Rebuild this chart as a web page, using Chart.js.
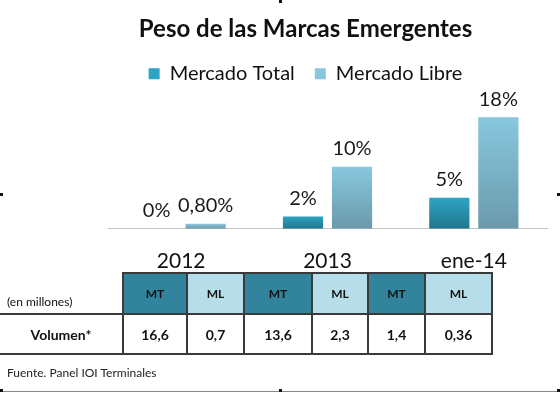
<!DOCTYPE html>
<html>
<head>
<meta charset="utf-8">
<script src="https://cdn.jsdelivr.net/npm/chart.js@4"></script>
<style>
    body { margin: 0; background: #fff; font-family: Lato, sans-serif; }
    #wrap { position: relative; width: 560px; height: 393px; overflow: hidden; }
    #chartBox { position: absolute; left: 0; top: 0; width: 560px; height: 301px; }
    table.vol { position: absolute; left: 0; top: 272px; border-collapse: collapse; }
    table.vol td { padding: 0; text-align: center; font-weight: bold; color: #111; }
    table.vol tr.head td { height: 39px; font-size: 12px; border: 2px solid #3a3a3a; }
    table.vol tr.data td { height: 38px; font-size: 14px; border: 2px solid #3a3a3a; }
    table.vol td.side { border-left: none !important; border-top: none !important; }
    table.vol tr.head td.side { text-align: left; font-weight: normal; font-size: 12px; padding-left: 7px; }
    table.vol td.side span.low { position: relative; top: 8px; }
    td.mt { background: #31849b; }
    td.ml { background: #b7dee8; }
    .note { position: absolute; left: 7px; top: 365px; font-size: 12px; color: #222; }
    .mark { position: absolute; width: 3px; height: 3px; background: #111; }
    .bottomLine { position: absolute; left: 0; top: 391px; width: 560px; height: 1px; background: #888; }
</style>
</head>
<body>
<div id="wrap">
    <div id="chartBox"><canvas id="pesoChart"></canvas></div>
    <table class="vol" id="volTable"></table>
    <div class="note">Fuente. Panel IOI Terminales</div>
    <div class="bottomLine"></div>
    <div class="mark" style="left:0;top:193px"></div>
    <div class="mark" style="left:557px;top:193px"></div>
    <div class="mark" style="left:279px;top:0"></div>
    <div class="mark" style="left:0;top:389px"></div>
    <div class="mark" style="left:279px;top:389px"></div>
    <div class="mark" style="left:557px;top:389px"></div>
</div>
<script>
// Datos del gráfico
const periodos = ['2012', '2013', 'ene-14'];
const mercadoTotal = [0, 2, 5];
const mercadoLibre = [0.8, 10, 18];
const etiquetasTotal = ['0%', '2%', '5%'];
const etiquetasLibre = ['0,80%', '10%', '18%'];

// Datos de la tabla
const columnas = ['MT', 'ML', 'MT', 'ML', 'MT', 'ML'];
const volumen = ['16,6', '0,7', '13,6', '2,3', '1,4', '0,36'];
const anchos = [124, 64, 57, 68, 56, 57, 67];

// Tabla de volumen
const table = document.getElementById('volTable');
let head = '<tr class="head"><td class="side" style="width:' + (anchos[0] - 9) + 'px"><span class="low">(en millones)</span></td>';
columnas.forEach((c, i) => {
    head += '<td class="' + c.toLowerCase() + '" style="width:' + (anchos[i + 1] - 2) + 'px">' + c + '</td>';
});
head += '</tr>';
let row = '<tr class="data"><td class="side">Volumen*</td>';
volumen.forEach(v => { row += '<td>' + v + '</td>'; });
row += '</tr>';
table.innerHTML = head + row;

// Degradado por barra
function barGradient(top, bottom) {
    return function(ctx) {
        const chart = ctx.chart;
        if (ctx.type !== 'data' || !chart.chartArea) return top;
        const y = chart.scales.y;
        const y0 = y.getPixelForValue(0);
        const y1 = y.getPixelForValue(ctx.parsed.y);
        if (Math.abs(y0 - y1) < 1) return top;
        const g = chart.ctx.createLinearGradient(0, y1, 0, y0);
        g.addColorStop(0, top);
        g.addColorStop(1, bottom);
        return g;
    };
}

// Etiquetas sobre las barras
const valueLabels = {
    id: 'valueLabels',
    afterDatasetsDraw(chart) {
        const ctx = chart.ctx;
        ctx.save();
        ctx.font = '20px Lato';
        ctx.fillStyle = '#1a1a1a';
        ctx.textAlign = 'center';
        ctx.textBaseline = 'middle';
        chart.data.datasets.forEach((ds, i) => {
            chart.getDatasetMeta(i).data.forEach((bar, j) => {
                ctx.fillText(ds.etiquetas[j], bar.x, bar.y - 18);
            });
        });
        ctx.restore();
    }
};

const ctx = document.getElementById('pesoChart').getContext('2d');
new Chart(ctx, {
    type: 'bar',
    data: {
        labels: periodos,
        datasets: [
            {
                label: 'Mercado Total',
                data: mercadoTotal,
                etiquetas: etiquetasTotal,
                backgroundColor: barGradient('#2fa3c3', '#1f768d')
            },
            {
                label: 'Mercado Libre',
                data: mercadoLibre,
                etiquetas: etiquetasLibre,
                backgroundColor: barGradient('#88c7de', '#6a9aab')
            }
        ]
    },
    options: {
        responsive: true,
        maintainAspectRatio: false,
        animation: false,
        categoryPercentage: 0.67,
        barPercentage: 0.82,
        layout: { padding: { left: 64, right: 13, top: 0, bottom: 7 } },
        plugins: {
            title: {
                display: true,
                text: 'Peso de las Marcas Emergentes',
                color: '#111',
                font: { family: 'Lato', size: 24, weight: 'bold' },
                padding: { top: 15, bottom: 0 }
            },
            legend: {
                labels: {
                    color: '#111',
                    font: { family: 'Lato', size: 20 },
                    boxWidth: 11,
                    boxHeight: 11,
                    padding: 20
                }
            },
            tooltip: { enabled: false }
        },
        scales: {
            x: {
                grid: { display: false, drawTicks: false },
                border: { color: '#c4c4c4' },
                ticks: { color: '#111', font: { family: 'Lato', size: 21 }, padding: 20 }
            },
            y: {
                min: 0,
                max: 21.8,
                grid: { display: false, drawTicks: false },
                border: { display: false },
                ticks: { display: false },
                afterFit(scale) { scale.width = 44; }
            }
        }
    },
    plugins: [valueLabels]
});
</script>
</body>
</html>
